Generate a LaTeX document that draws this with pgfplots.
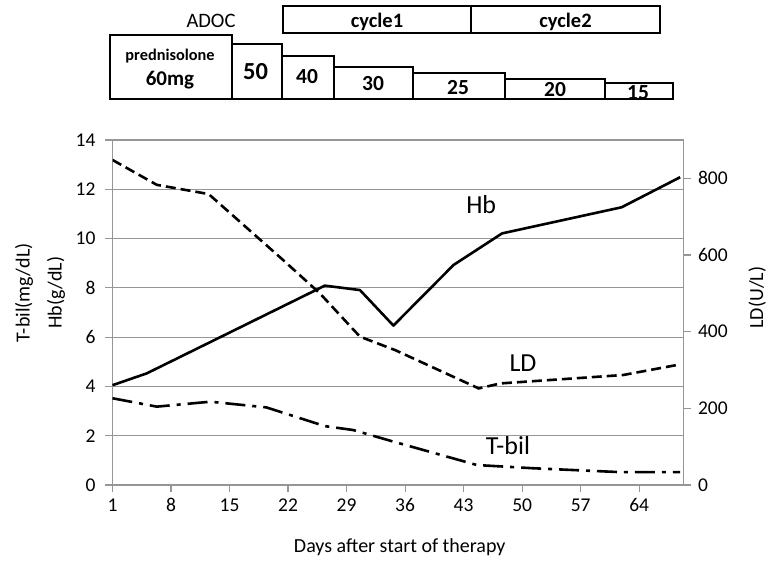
\documentclass[border=0pt]{standalone}
\usepackage{pgfplots}
\pgfplotsset{compat=1.18}
\usepackage{fontspec}
\setmainfont{Carlito}
\definecolor{gridgray}{RGB}{150,150,150}
\begin{document}
\begin{tikzpicture}
\pgfplotsset{every axis/.append style={scale only axis, width=571pt, height=345pt, xmin=1, xmax=69.3,
  /pgf/number format/assume math mode=true,
  tick label style={font=\fontsize{19.5}{22}\selectfont},
  label style={font=\fontsize{20}{32}\selectfont},
  axis line style={gridgray, line width=1.2pt},
  major tick style={gridgray, line width=1.2pt},
  major tick length=7pt, tick align=outside}}
\begin{axis}[axis x line*=bottom, axis y line*=left, ymin=0, ymax=14, ytick={0,2,...,14},
  xtick={1,8,...,64}, ymajorgrids, grid style={gridgray, line width=1.2pt}, clip=false,
  ylabel={T-bil(mg/dL)\\Hb(g/dL)},
  ylabel style={align=center, at={(axis description cs:-0.127,0.557)}, anchor=center},
  xlabel={Days after start of therapy},
  xlabel style={at={(axis description cs:0.503,-0.18)}, anchor=center},
  yticklabel style={xshift=-6.5pt}, xticklabel style={yshift=-3pt}]
% Hb
\addplot[black, line width=2.6pt, line join=round] coordinates {
(1,4.05) (5.1,4.53) (26.4,8.09) (30.6,7.91) (34.6,6.47) (41.8,8.93) (47.6,10.21) (61.9,11.27) (68.9,12.49)};
% T-bil
\addplot[black, line width=2.6pt, dash pattern=on 20pt off 7pt on 4pt off 7pt] coordinates {
(1,3.52) (6.3,3.18) (12.7,3.38) (19.4,3.15) (26.4,2.39) (29.8,2.23) (34.6,1.76) (44.6,0.81) (51.3,0.68) (61.9,0.52) (68.9,0.52)};
\node[font=\fontsize{26}{30}\selectfont] at (axis cs:45.1,11.36) {Hb};
\node[font=\fontsize{26}{30}\selectfont] at (axis cs:50.1,4.95) {LD};
\node[font=\fontsize{26}{30}\selectfont] at (axis cs:48.3,1.62) {T-bil};
\end{axis}
\begin{axis}[axis x line=none, axis y line*=right, ymin=0, ymax=900, ytick={0,200,...,800},
  ylabel={LD(U/L)},
  ylabel style={at={(axis description cs:1.129,0.543)}, anchor=center},
  yticklabel style={xshift=4pt}]
\addplot[black, line width=2.6pt, dash pattern=on 10pt off 5pt] coordinates {
(1,848) (6.3,783) (12.5,759) (21.4,587) (25.8,500) (30.6,387) (34.8,352) (44.8,252) (47.4,265) (62.1,287) (68.5,313)};
\end{axis}
% treatment timeline
\begin{scope}[line width=1.7pt]
\draw (-2.5pt,386pt) rectangle (119.5pt,450pt);
\draw (119.5pt,386pt) rectangle (169.5pt,441pt);
\draw (169.5pt,386pt) rectangle (221.5pt,429pt);
\draw (221.5pt,386pt) rectangle (300.5pt,418pt);
\draw (300.5pt,386pt) rectangle (392.5pt,412pt);
\draw (392.5pt,386pt) rectangle (492.5pt,406pt);
\draw (492.5pt,386pt) rectangle (560.5pt,402pt);
\draw (170.5pt,452pt) rectangle (358.5pt,479pt);
\draw (358.5pt,452pt) rectangle (547.5pt,479pt);
\end{scope}
\node[font=\fontsize{20.5}{22}\selectfont] at (98.5pt,464pt) {ADOC};
\node[font=\fontsize{16.3}{18}\selectfont\bfseries] at (57.5pt,429pt) {prednisolone};
\node[font=\fontsize{21}{23}\selectfont\bfseries] at (57.5pt,405pt) {60mg};
\node[font=\fontsize{24.5}{26}\selectfont\bfseries] at (143pt,413pt) {50};
\node[font=\fontsize{21.5}{23}\selectfont\bfseries] at (194.5pt,408pt) {40};
\node[font=\fontsize{21.5}{23}\selectfont\bfseries] at (260.5pt,401pt) {30};
\node[font=\fontsize{21.5}{23}\selectfont\bfseries] at (345.5pt,397pt) {25};
\node[font=\fontsize{21.5}{23}\selectfont\bfseries] at (442.5pt,395pt) {20};
\node[font=\fontsize{21.5}{23}\selectfont\bfseries] at (525.5pt,392pt) {15};
\node[font=\fontsize{20.5}{22}\selectfont\bfseries] at (264.5pt,463pt) {cycle1};
\node[font=\fontsize{20.5}{22}\selectfont\bfseries] at (453pt,463pt) {cycle2};
\pgfresetboundingbox
\path (-112.5pt,-78pt) rectangle (655.5pt,485pt);
\end{tikzpicture}
\end{document}
